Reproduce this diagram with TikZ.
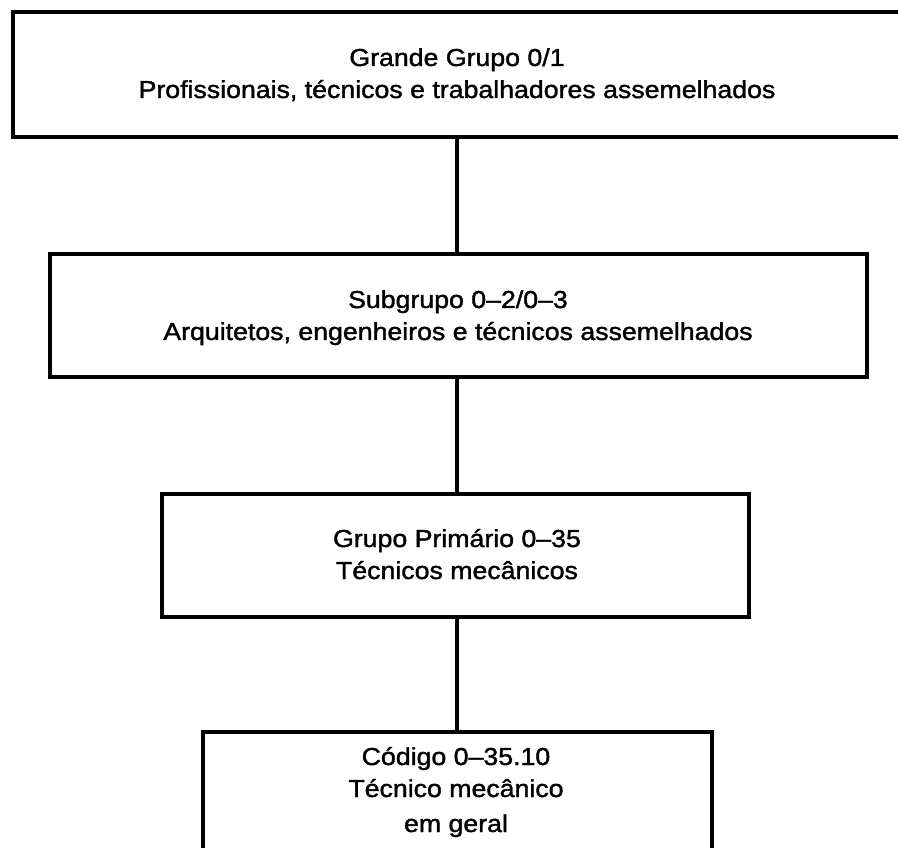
\documentclass[tikz,border=0pt]{standalone}
\usepackage{fontspec}
\setmainfont{Liberation Sans}[FakeStretch=1.09, FakeBold=1.5]

% centred lines of a box, baseline on the first line
\newcommand{\boxlines}[1]{\begin{tabular}[t]{@{}c@{}}#1\end{tabular}}

\tikzset{
  levelbox/.style={draw=black, line width=3.4pt, inner sep=0pt, outer sep=0pt,
    anchor=north west, rectangle},
  boxtext/.style={anchor=base, inner sep=0pt, outer sep=0pt,
    font=\fontsize{24.5}{32}\selectfont},
  link/.style={draw=black, line width=3.6pt}
}

\begin{document}
\begin{tikzpicture}[x=1pt, y=-1pt]
  \useasboundingbox (0,0) rectangle (898,848);
  \fill[white] (0,0) rectangle (898,848);
  \clip (0,0) rectangle (898,848);

  % the four levels of the classification
  \node[levelbox, minimum width=888pt, minimum height=125pt] (b1) at (13,12) {};
  \node[levelbox, minimum width=817pt, minimum height=123pt] (b2) at (50,254) {};
  \node[levelbox, minimum width=587pt, minimum height=123pt] (b3) at (162,494) {};
  \node[levelbox, minimum width=509pt, minimum height=140pt] (b4) at (203,732) {};

  % labels
  \node[boxtext] (t1) at (457,66)
    {\boxlines{Grande Grupo 0/1\\Profissionais, técnicos e trabalhadores assemelhados}};
  \node[boxtext] (t2) at (458,308)
    {\boxlines{Subgrupo 0–2/0–3\\Arquitetos, engenheiros e técnicos assemelhados}};
  \node[boxtext] (t3) at (457,547)
    {\boxlines{Grupo Primário 0–35\\Técnicos mecânicos}};
  \node[boxtext] (t4) at (456,765)
    {\boxlines{Código 0–35.10\\Técnico mecânico\\[3pt]em geral}};

  % vertical links between levels
  \draw[link] (b1.south) -- (b1.south |- b2.north);
  \draw[link] (b1.south |- b2.south) -- (b1.south |- b3.north);
  \draw[link] (b1.south |- b3.south) -- (b1.south |- b4.north);
\end{tikzpicture}
\end{document}
